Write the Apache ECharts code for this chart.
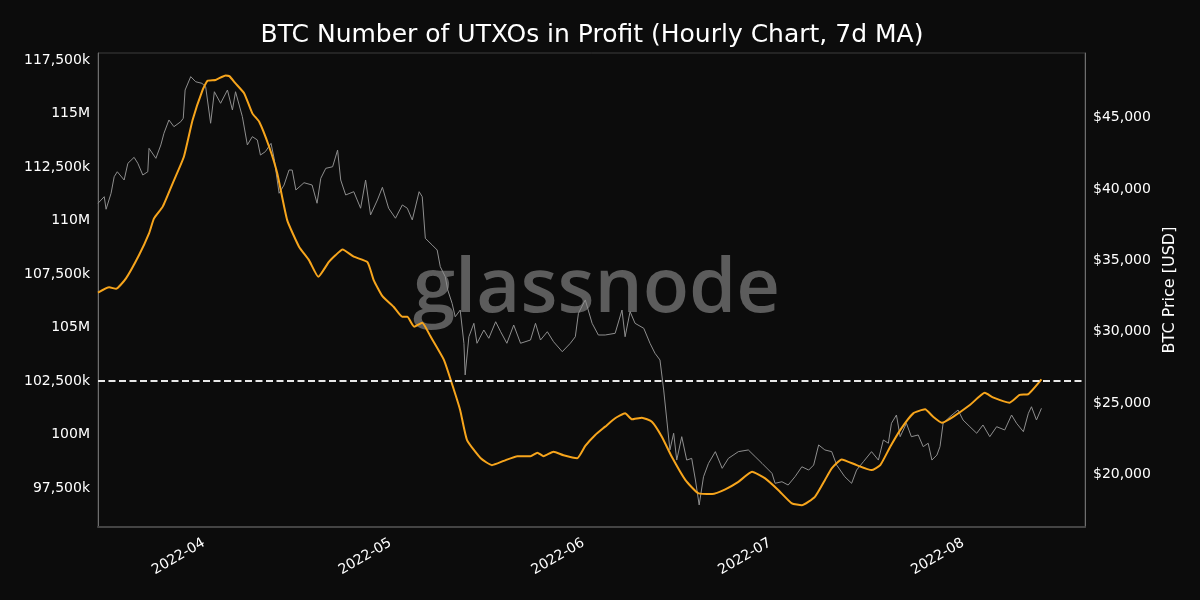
<!DOCTYPE html>
<html>
<head>
<meta charset="utf-8">
<title>BTC Number of UTXOs in Profit</title>
<script src="https://cdn.jsdelivr.net/npm/echarts@6/dist/echarts.min.js"></script>
<style>
    html, body { margin: 0; padding: 0; background: #0c0c0c; }
    #chart { width: 1200px; height: 600px; }
</style>
</head>
<body>
<div id="chart"></div>
<script>
// days are counted from 2022-03-15 00:00 UTC
const startDate = Date.UTC(2022, 2, 15);
const dayMs = 86400000;

// BTC price (grey line, right axis)
const priceDays = [
    0.0, 1.0, 1.3, 2.1, 2.6, 3.1, 4.2, 4.8, 5.8, 6.4,
    7.2, 8.0, 8.2, 9.3, 10.1, 10.6, 11.4, 12.2, 13.3, 13.7,
    14.0, 14.9, 15.7, 16.7, 17.3, 18.1, 18.7, 19.7, 20.8, 21.6,
    22.1, 23.2, 24.0, 24.8, 25.6, 26.1, 26.9, 27.8, 28.3, 29.1,
    29.9, 30.7, 31.2, 31.8, 33.1, 34.4, 35.2, 35.8, 36.6, 37.7,
    38.5, 39.0, 39.8, 41.1, 42.2, 43.0, 43.8, 44.9, 45.7, 46.7,
    47.8, 48.9, 49.7, 50.5, 51.6, 52.1, 52.6, 53.7, 54.5, 55.0,
    55.8, 56.2, 56.9, 57.4, 58.2, 58.8, 59.0, 59.6, 60.4, 60.9,
    62.0, 62.8, 63.9, 64.7, 65.7, 66.8, 67.9, 69.5, 70.3, 71.1,
    72.2, 73.2, 74.6, 75.9, 76.7, 77.2, 78.3, 79.4, 80.4, 81.5,
    83.1, 84.2, 84.7, 85.5, 86.3, 87.7, 88.7, 89.5, 90.3, 90.9,
    91.4, 91.9, 92.5, 93.0, 93.8, 94.6, 95.4, 96.0, 96.6, 97.3,
    98.1, 99.2, 100.3, 101.3, 102.9, 104.5, 105.6, 106.7, 108.3, 108.8,
    109.9, 110.9, 112.0, 113.1, 114.2, 115.0, 115.8, 116.8, 117.9, 118.7,
    120.0, 121.1, 121.9, 123.0, 124.3, 125.4, 126.2, 127.0, 127.5, 128.3,
    128.9, 129.9, 130.7, 131.8, 132.6, 133.4, 134.0, 134.8, 135.3, 135.8,
    136.9, 138.2, 139.0, 140.1, 141.2, 142.2, 143.3, 144.4, 145.7, 146.8,
    147.6, 148.7, 149.5, 150.0, 150.8, 151.6
];
const priceUsd = [
    39000, 39460, 38580, 39700, 40860, 41210, 40630, 41800, 42220, 41800,
    40980, 41210, 42850, 42150, 43090, 43910, 44840, 44370, 44720, 44960,
    46940, 47880, 47520, 47410, 47170, 44610, 46820, 46010, 46940, 45540,
    46820, 45070, 43090, 43670, 43440, 42380, 42620, 43200, 42150, 39700,
    40280, 41330, 41330, 39930, 40440, 40280, 39000, 40750, 41450, 41560,
    42730, 40630, 39580, 39810, 38650, 40630, 38180, 39230, 40120, 38650,
    37950, 38880, 38650, 37830, 39810, 39460, 36540, 36070, 35720, 34550,
    33850, 32920, 31980, 31040, 31510, 29180, 26960, 29640, 30580, 29180,
    30110, 29530, 30690, 29990, 29180, 30460, 29180, 29410, 30580, 29410,
    29990, 29290, 28590, 29180, 29640, 31280, 32220, 30580, 29760, 29760,
    29880, 31510, 29640, 31400, 30580, 30230, 29180, 28480, 28010, 25900,
    23800, 21700, 22870, 20990, 22630, 20990, 21110, 19590, 17840, 19820,
    20760, 21580, 20410, 21110, 21580, 21700, 21230, 20760, 20060, 19360,
    19470, 19240, 19820, 20520, 20290, 20640, 22050, 21700, 21580, 20640,
    19820, 19360, 20290, 20880, 21580, 20990, 22400, 22170, 23570, 24150,
    22630, 23570, 22630, 22750, 21930, 22170, 20990, 21340, 21930, 23570,
    24030, 24500, 23800, 23330, 22870, 23450, 22630, 23330, 23100, 24150,
    23570, 22980, 24270, 24730, 23800, 24620
];

// UTXOs in profit, 7d MA (orange line, left axis), millions
const maDays = [
    0.0, 1.8, 2.9, 4.5, 6.6, 8.2, 9.0, 10.4, 12.0, 13.8,
    15.2, 16.8, 17.6, 18.9, 20.5, 21.1, 22.1, 23.5, 24.8, 25.9,
    27.5, 28.8, 30.4, 32.3, 33.9, 35.4, 37.1, 38.2, 39.3, 41.1,
    43.3, 44.3, 45.7, 47.5, 48.9, 49.7, 50.8, 52.1, 53.4, 55.6,
    57.2, 58.2, 59.3, 61.5, 63.3, 65.2, 67.4, 69.5, 70.6, 71.6,
    73.2, 74.8, 77.0, 78.3, 79.9, 81.5, 83.1, 84.7, 85.8, 87.4,
    89.0, 90.6, 92.2, 94.4, 96.5, 98.7, 100.8, 102.9, 105.1, 107.2,
    109.3, 111.5, 113.1, 115.2, 116.8, 117.9, 119.5, 121.9, 124.3, 125.7,
    127.3, 128.9, 131.0, 132.9, 134.2, 135.6, 137.4, 140.1, 142.5, 143.8,
    146.5, 148.1, 149.5, 151.6
];
const utxoProfitM = [
    106.63, 106.88, 106.81, 107.30, 108.39, 109.40, 110.10, 110.65, 111.74, 112.98,
    114.70, 116.10, 116.53, 116.57, 116.78, 116.75, 116.41, 115.94, 115.01, 114.62,
    113.45, 112.21, 110.02, 108.78, 108.15, 107.37, 108.07, 108.39, 108.65, 108.31,
    108.06, 107.22, 106.47, 105.97, 105.50, 105.50, 105.04, 105.23, 104.60, 103.48,
    102.08, 101.14, 99.74, 98.89, 98.57, 98.77, 98.99, 98.99, 99.15, 98.99,
    99.20, 99.03, 98.89, 99.47, 99.98, 100.37, 100.76, 100.99, 100.71, 100.79,
    100.60, 99.90, 98.96, 97.87, 97.25, 97.22, 97.44, 97.79, 98.26, 97.95,
    97.41, 96.78, 96.70, 97.09, 97.87, 98.42, 98.84, 98.57, 98.34, 98.57,
    99.43, 100.21, 100.99, 101.18, 100.83, 100.55, 100.83, 101.38, 101.95, 101.74,
    101.49, 101.85, 101.89, 102.58
];

const thresholdM = 102.5;
const leftTicksM = [97.5, 100, 102.5, 105, 107.5, 110, 112.5, 115, 117.5];
const rightTicksUsd = [20000, 25000, 30000, 35000, 40000, 45000];
const monthTicks = ['2022-04-01', '2022-05-01', '2022-06-01', '2022-07-01', '2022-08-01'];

const toTime = d => startDate + d * dayMs;
const priceData = priceDays.map((d, i) => [toTime(d), priceUsd[i]]);
const maData = maDays.map((d, i) => [toTime(d), utxoProfitM[i]]);
const monthTickTimes = monthTicks.map(s => Date.parse(s + 'T00:00:00Z'));

const fontFamily = '"DejaVu Sans", sans-serif';

const fmtUtxo = v => {
    if (Math.abs(v - Math.round(v)) < 1e-6) return Math.round(v) + 'M';
    return Math.round(v * 1000).toLocaleString('en-US') + 'k';
};
const fmtMonth = v => {
    const d = new Date(v);
    return d.getUTCFullYear() + '-' + String(d.getUTCMonth() + 1).padStart(2, '0');
};

const myChart = echarts.init(document.getElementById('chart'));

const option = {
    backgroundColor: '#0c0c0c',
    animation: false,
    textStyle: { fontFamily: fontFamily },
    title: {
        text: 'BTC Number of UTXOs in Profit (Hourly Chart, 7d MA)',
        left: 587,
        textAlign: 'center',
        top: 18,
        textStyle: { color: '#ffffff', fontSize: 25, fontWeight: 'normal', fontFamily: fontFamily }
    },
    grid: {
        left: 98,
        right: 115,
        top: 53,
        bottom: 73,
        containLabel: false,
        show: true,
        borderColor: '#3c3c3c',
        borderWidth: 1
    },
    graphic: [
        {
            type: 'text',
            left: 413,
            top: 252,
            z: 0,
            silent: true,
            style: {
                text: 'glassnode',
                fill: '#5c5c5c',
                font: '600 76px "Open Sans", sans-serif'
            }
        }
    ],
    xAxis: {
        type: 'value',
        min: toTime(0),
        max: toTime(158.6),
        axisLine: { show: true, lineStyle: { color: '#444444', width: 2 } },
        axisTick: { show: false },
        splitLine: { show: false },
        axisLabel: {
            customValues: monthTickTimes,
            formatter: fmtMonth,
            rotate: 30,
            margin: 15,
            color: '#ffffff',
            fontSize: 14,
            fontFamily: fontFamily
        }
    },
    yAxis: [
        {
            type: 'value',
            position: 'left',
            min: 95.68,
            max: 117.83,
            axisLine: { show: true, lineStyle: { color: '#6e6e6e', width: 1 } },
            axisTick: { show: false },
            splitLine: { show: false },
            axisLabel: {
                customValues: leftTicksM,
                formatter: fmtUtxo,
                margin: 8,
                color: '#ffffff',
                fontSize: 14,
                fontFamily: fontFamily
            }
        },
        {
            type: 'value',
            position: 'right',
            min: 16296,
            max: 49537,
            name: 'BTC Price [USD]',
            nameLocation: 'middle',
            nameRotate: 90,
            nameGap: 72,
            nameTextStyle: { color: '#ffffff', fontSize: 16, fontFamily: fontFamily },
            axisLine: { show: true, lineStyle: { color: '#6e6e6e', width: 1 } },
            axisTick: { show: false },
            splitLine: { show: false },
            axisLabel: {
                customValues: rightTicksUsd,
                formatter: v => '$' + v.toLocaleString('en-US'),
                margin: 8,
                color: '#ffffff',
                fontSize: 14,
                fontFamily: fontFamily
            }
        }
    ],
    series: [
        {
            name: 'BTC Price',
            type: 'line',
            yAxisIndex: 1,
            data: priceData,
            showSymbol: false,
            lineStyle: { color: '#8e8e8e', width: 1 },
            z: 2
        },
        {
            name: 'UTXOs in Profit (7d MA)',
            type: 'line',
            yAxisIndex: 0,
            data: maData,
            showSymbol: false,
            smooth: 0.15,
            lineStyle: { color: '#f7a51c', width: 2 },
            z: 3,
            markLine: {
                silent: true,
                symbol: 'none',
                label: { show: false },
                lineStyle: { color: '#e8e8e8', width: 2, type: [7, 3.5] },
                data: [{ yAxis: thresholdM }]
            }
        }
    ]
};

myChart.setOption(option);
window.addEventListener('resize', () => {
    myChart.resize();
});
</script>
</body>
</html>
